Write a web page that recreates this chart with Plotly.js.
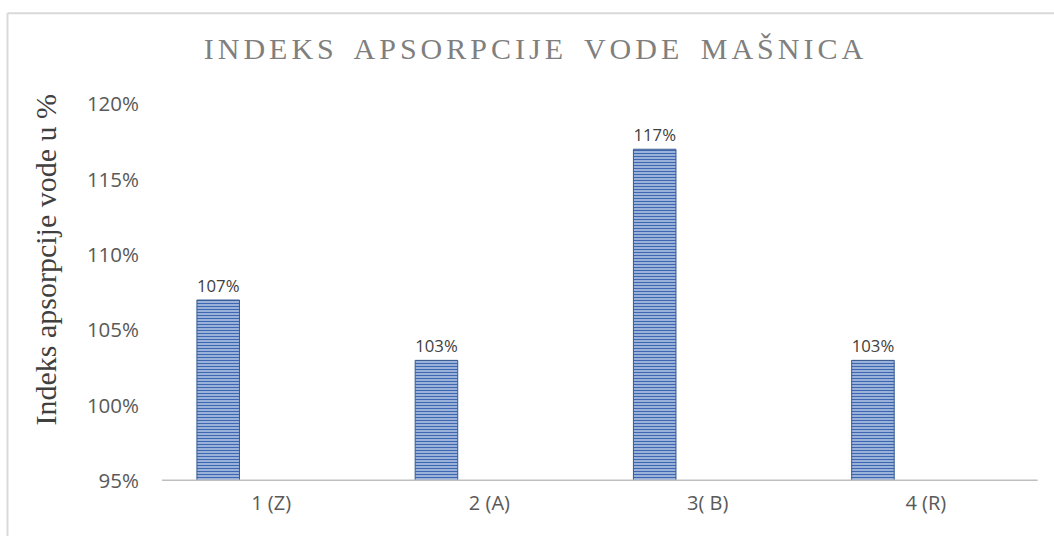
<!DOCTYPE html>
<html>
<head>
<meta charset="utf-8">
<script src="https://cdn.plot.ly/plotly-3.0.1.min.js"></script>
<style>
  html, body { margin: 0; padding: 0; background: #ffffff; }
  #chart { width: 1054px; height: 536px; }
</style>
</head>
<body>
<div id="chart"></div>
<script>
const categories = ["1 (Z)", "2 (A)", "3( B)", "4 (R)"];
const values = [1.07, 1.03, 1.17, 1.03];
const labels = ["107%", "103%", "117%", "103%"];
const tickVals = [0.95, 1.00, 1.05, 1.10, 1.15, 1.20];
const tickText = ["95%", "100%", "105%", "110%", "115%", "120%"];

const trace = {
  type: "bar",
  x: categories,
  y: values,
  text: labels,
  textposition: "outside",
  cliponaxis: false,
  textfont: { family: "Open Sans, Liberation Sans, sans-serif", size: 19.5, color: "#404040" },
  offset: -0.34,
  width: 0.195,
  marker: {
    color: "#c9d8ee",
    line: { color: "#36598f", width: 1 },
    pattern: { shape: "-", fgcolor: "#3d67b0", bgcolor: "#c6d5ed", size: 3, solidity: 0.55, fillmode: "replace" }
  },
  hoverinfo: "skip"
};

const layout = {
  width: 1054,
  height: 536,
  margin: { l: 162, r: 19, t: 104, b: 55 },
  paper_bgcolor: "#ffffff",
  plot_bgcolor: "#ffffff",
  showlegend: false,
  title: {
    text: "INDEKS APSORPCIJE VODE MAŠNICA",
    font: { family: "Liberation Serif, Times New Roman, serif", size: 30, color: "#7f7f7f" },
    x: 0.508, xanchor: "center",
    y: 0.91, yanchor: "middle"
  },
  xaxis: {
    type: "category",
    showgrid: false,
    zeroline: false,
    showline: false,
    ticks: "",
    tickfont: { family: "Open Sans, Liberation Sans, sans-serif", size: 20, color: "#595959" },
    ticklabelstandoff: 8
  },
  yaxis: {
    range: [0.95, 1.20],
    tickvals: tickVals,
    ticktext: tickText,
    showgrid: false,
    zeroline: false,
    showline: false,
    ticks: "",
    tickfont: { family: "Open Sans, Liberation Sans, sans-serif", size: 20.5, color: "#595959" },
    ticklabelstandoff: 22
  },
  annotations: [{
    text: "Indeks apsorpcije vode u %",
    xref: "paper", yref: "paper",
    x: -0.134, y: 0.5875,
    xanchor: "center", yanchor: "middle",
    textangle: -90,
    showarrow: false,
    font: { family: "Liberation Serif, Times New Roman, serif", size: 30, color: "#404040" }
  }],
  shapes: [
    { type: "line", xref: "paper", yref: "y", x0: 0, x1: 1.003, y0: 0.95, y1: 0.95,
      line: { color: "#bfbfbf", width: 3 } },
    { type: "line", xref: "paper", yref: "paper", x0: -0.177, x1: 1.03, y0: 1.241, y1: 1.241,
      line: { color: "#d9d9d9", width: 2 } },
    { type: "line", xref: "paper", yref: "paper", x0: -0.177, x1: -0.177, y0: 1.241, y1: -0.2,
      line: { color: "#d9d9d9", width: 2 } }
  ]
};

Plotly.newPlot("chart", [trace], layout, { staticPlot: true, displayModeBar: false }).then(function () {
  const t = document.querySelector(".gtitle");
  if (t) { t.style.letterSpacing = "4px"; t.style.wordSpacing = "6px"; }
});
</script>
</body>
</html>
